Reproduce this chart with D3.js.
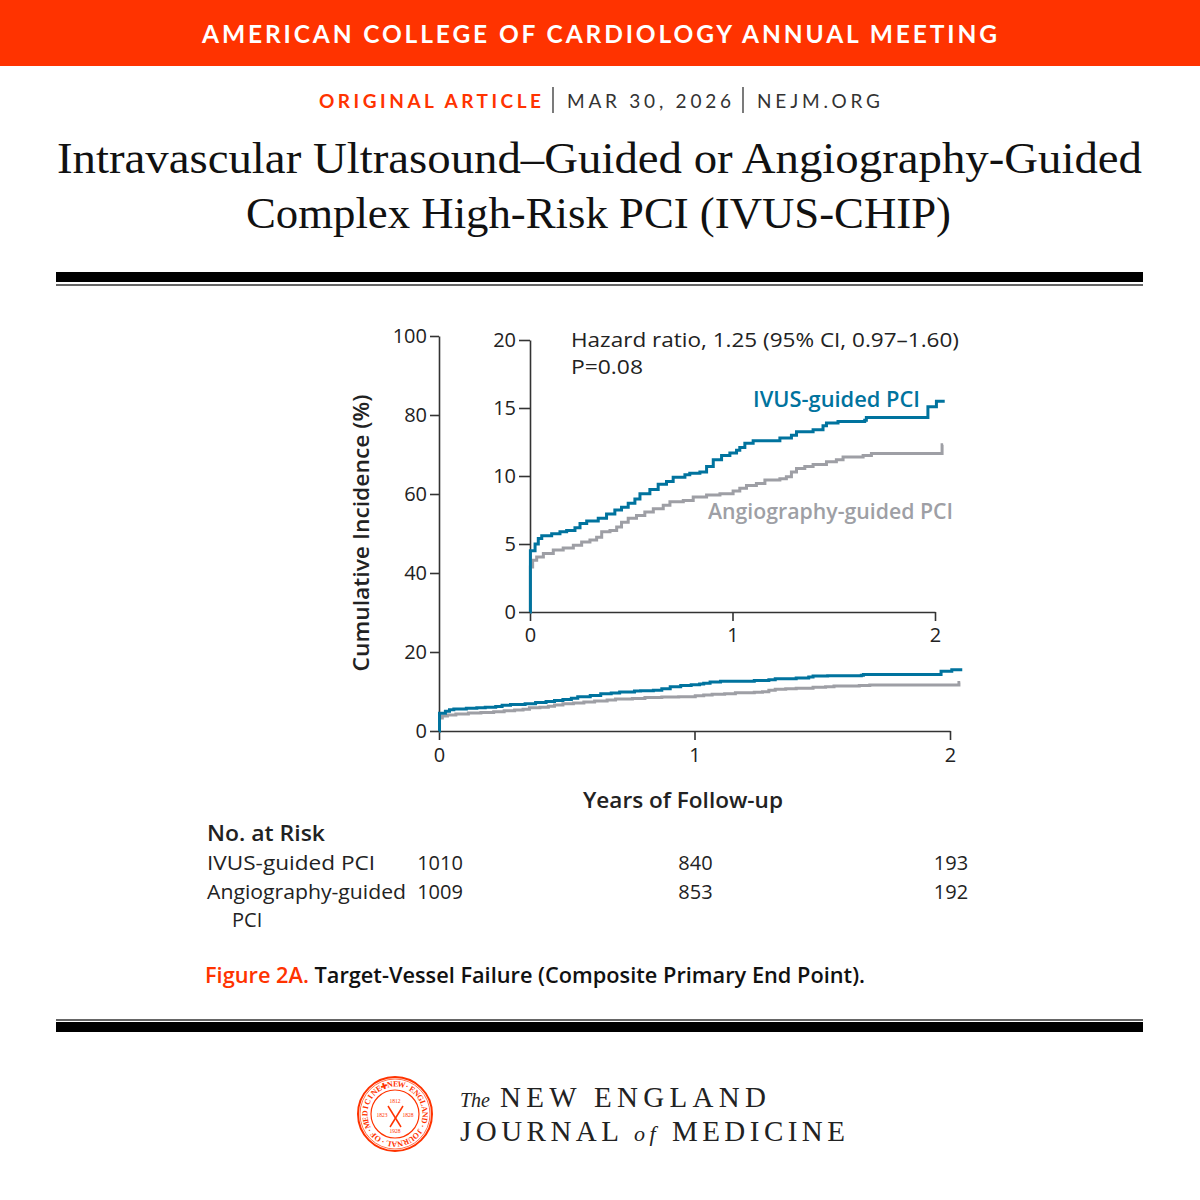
<!DOCTYPE html>
<html><head><meta charset="utf-8">
<script src="https://cdn.jsdelivr.net/npm/d3@7"></script>
<style>body{margin:0;background:#fff}svg{display:block}</style>
</head><body>
<script>
// ---------- data ----------
const years = [0, 1, 2];
const yTicksMain = [0, 20, 40, 60, 80, 100];
const yTicksInset = [0, 5, 10, 15, 20];
const ivusTimes  = [0, 0.002, 0.025, 0.041, 0.058, 0.107, 0.148, 0.181, 0.222, 0.247, 0.28, 0.337, 0.378, 0.419, 0.452, 0.485, 0.518, 0.543, 0.592, 0.633, 0.674, 0.707, 0.765, 0.789, 0.839, 0.872, 0.905, 0.946, 0.987, 1.020, 1.036, 1.061, 1.102, 1.201, 1.234, 1.291, 1.316, 1.398, 1.447, 1.464, 1.521, 1.653, 1.661, 1.965, 2.007, 2.048];
const ivusValues = [0, 4.5,   5.0,   5.4,   5.6,   5.75,  5.9,   6.0,   6.2,   6.5,   6.7,  6.9,   7.2,   7.5,   7.7,   8.0,   8.3,   8.7,   9.0,   9.4,   9.6,   9.9,   10.1,  10.2,  10.3,  10.7,  11.2,  11.5,  11.7,  11.9,  12.1,  12.4,  12.6,  12.6,  12.8,  13.0,  13.25, 13.4,  13.7,  13.9,  14.0,  14.1,  14.3,  15.1,  15.5,  15.5];
const angioTimes  = [0, 0.002, 0.013, 0.033, 0.066, 0.115, 0.164, 0.214, 0.255, 0.296, 0.329, 0.354, 0.395, 0.428, 0.452, 0.485, 0.526, 0.567, 0.609, 0.658, 0.691, 0.757, 0.806, 0.872, 0.938, 1.003, 1.036, 1.069, 1.118, 1.160, 1.234, 1.266, 1.291, 1.316, 1.357, 1.398, 1.464, 1.513, 1.546, 1.645, 1.686, 2.035, 2.04];
const angioValues = [0, 3.3,   3.8,   4.05,  4.3,   4.55,  4.7,   4.9,   5.15,  5.3,   5.5,   5.9,   6.0,   6.25,  6.6,   6.9,   7.1,   7.35,  7.6,   7.85,  8.1,   8.2,   8.45,  8.6,   8.7,   8.9,   9.1,   9.3,   9.45,  9.7,   9.8,   9.95,  10.3,  10.55, 10.7,  10.85, 11.05, 11.2,  11.4,  11.5,  11.65, 12.3,  12.3];
const riskGroups = ["IVUS-guided PCI", "Angiography-guided"];
const riskIvus  = [1010, 840, 193];
const riskAngio = [1009, 853, 192];

const BLUE = "#00739e", GRAY = "#9e9fa5", RED = "#ff3300", AX = "#333";
const SANS = "'Open Sans', 'Noto Sans', sans-serif";
const SERIF = "'Liberation Serif', 'DejaVu Serif', serif";

const svg = d3.select("body").append("svg").attr("width", 1200).attr("height", 1200);

// ---------- header ----------
svg.append("rect").attr("x",0).attr("y",0).attr("width",1200).attr("height",66).attr("fill",RED);
svg.append("text").attr("x",202).attr("y",43).attr("textLength",795).attr("lengthAdjust","spacing")
  .attr("font-family","Lato, sans-serif").attr("font-weight",700).attr("font-size",24.5).attr("fill","#fff")
  .text("AMERICAN COLLEGE OF CARDIOLOGY ANNUAL MEETING");

const sub = [[319,222,"ORIGINAL ARTICLE",RED,700],[567,164,"MAR 30, 2026","#333",400],[757,123,"NEJM.ORG","#333",400]];
sub.forEach(s=>svg.append("text").attr("x",s[0]).attr("y",108).attr("textLength",s[1]).attr("lengthAdjust","spacing")
  .attr("font-family","Lato, sans-serif").attr("font-weight",s[4]).attr("font-size",19).attr("fill",s[3]).text(s[2]));
[553,743].forEach(x=>svg.append("line").attr("x1",x).attr("x2",x).attr("y1",87).attr("y2",113).attr("stroke","#333").attr("stroke-width",1.3));

svg.append("text").attr("x",57).attr("y",173).attr("textLength",1085).attr("lengthAdjust","spacingAndGlyphs")
  .attr("font-family",SERIF).attr("font-size",45).attr("fill","#111").text("Intravascular Ultrasound–Guided or Angiography-Guided");
svg.append("text").attr("x",246).attr("y",228).attr("textLength",705).attr("lengthAdjust","spacingAndGlyphs")
  .attr("font-family",SERIF).attr("font-size",45).attr("fill","#111").text("Complex High-Risk PCI (IVUS-CHIP)");

// rules
svg.append("rect").attr("x",56).attr("y",272).attr("width",1087).attr("height",10).attr("fill","#000");
svg.append("rect").attr("x",56).attr("y",284).attr("width",1087).attr("height",2).attr("fill","#666");
svg.append("rect").attr("x",56).attr("y",1019).attr("width",1087).attr("height",2).attr("fill","#666");
svg.append("rect").attr("x",56).attr("y",1022).attr("width",1087).attr("height",10).attr("fill","#000");

// ---------- main chart ----------
const x = d3.scaleLinear().domain([0,2]).range([439,950]);
const y = d3.scaleLinear().domain([0,100]).range([731,336]);
const gMain = svg.append("g");
const fmt = d3.format("d");

const styleAxis = (g)=>{
  g.selectAll("path.domain").attr("stroke",AX).attr("stroke-width",1.6);
  g.selectAll(".tick line").attr("stroke",AX).attr("stroke-width",1.6);
  g.selectAll(".tick text").attr("font-family",SANS).attr("font-size",20).attr("fill","#222");
};
gMain.append("g").attr("transform","translate(439,0)")
  .call(d3.axisLeft(y).tickValues(yTicksMain).tickFormat(fmt).tickSize(9).tickSizeOuter(0).tickPadding(3))
  .call(styleAxis);
gMain.append("g").attr("transform","translate(0,731)")
  .call(d3.axisBottom(x).tickValues(years).tickFormat(fmt).tickSize(9).tickSizeOuter(0).tickPadding(8))
  .call(styleAxis);

const mkLine = (xs, ys) => d3.line().curve(d3.curveStepAfter).x(d=>xs(d[0])).y(d=>ys(d[1]));
const ivus = ivusTimes.map((t,i)=>[t, ivusValues[i]]);
const angio = angioTimes.map((t,i)=>[t, angioValues[i]]);

gMain.append("path").datum(angio).attr("d",mkLine(x,y)).attr("fill","none").attr("stroke",GRAY).attr("stroke-width",3);
gMain.append("path").datum(ivus).attr("d",mkLine(x,y)).attr("fill","none").attr("stroke",BLUE).attr("stroke-width",3);

svg.append("text").attr("transform","translate(369,533) rotate(-90)").attr("text-anchor","middle")
  .attr("textLength",277).attr("lengthAdjust","spacingAndGlyphs")
  .attr("font-family",SANS).attr("font-weight",600).attr("font-size",22).attr("fill","#222")
  .text("Cumulative Incidence (%)");
svg.append("text").attr("x",683).attr("y",808).attr("text-anchor","middle")
  .attr("textLength",200).attr("lengthAdjust","spacingAndGlyphs")
  .attr("font-family",SANS).attr("font-weight",600).attr("font-size",22).attr("fill","#222")
  .text("Years of Follow-up");

// ---------- inset ----------
const xi = d3.scaleLinear().domain([0,2]).range([530,935]);
const yi = d3.scaleLinear().domain([0,20]).range([612,340]);
const gIn = svg.append("g");
gIn.append("g").attr("transform","translate(530,0)")
  .call(d3.axisLeft(yi).tickValues(yTicksInset).tickFormat(fmt).tickSize(11).tickSizeOuter(0).tickPadding(3))
  .call(styleAxis);
gIn.append("g").attr("transform","translate(0,612)")
  .call(d3.axisBottom(xi).tickValues(years).tickFormat(fmt).tickSize(9).tickSizeOuter(0).tickPadding(7))
  .call(styleAxis);
gIn.append("path").datum(angio).attr("d",mkLine(xi,yi)).attr("fill","none").attr("stroke",GRAY).attr("stroke-width",3);
gIn.append("path").datum(ivus).attr("d",mkLine(xi,yi)).attr("fill","none").attr("stroke",BLUE).attr("stroke-width",3);

svg.append("text").attr("x",571).attr("y",347).attr("textLength",388).attr("lengthAdjust","spacingAndGlyphs")
  .attr("font-family",SANS).attr("font-size",20).attr("fill","#222").text("Hazard ratio, 1.25 (95% CI, 0.97–1.60)");
svg.append("text").attr("x",571).attr("y",374).attr("textLength",72).attr("lengthAdjust","spacingAndGlyphs")
  .attr("font-family",SANS).attr("font-size",20).attr("fill","#222").text("P=0.08");
svg.append("text").attr("x",753).attr("y",407).attr("textLength",167).attr("lengthAdjust","spacingAndGlyphs")
  .attr("font-family",SANS).attr("font-weight",600).attr("font-size",21).attr("fill",BLUE).text("IVUS-guided PCI");
svg.append("text").attr("x",708).attr("y",519).attr("textLength",245).attr("lengthAdjust","spacingAndGlyphs")
  .attr("font-family",SANS).attr("font-weight",600).attr("font-size",21).attr("fill",GRAY).text("Angiography-guided PCI");

// ---------- risk table ----------
svg.append("text").attr("x",207).attr("y",841).attr("textLength",118).attr("lengthAdjust","spacingAndGlyphs")
  .attr("font-family",SANS).attr("font-weight",600).attr("font-size",22).attr("fill","#222").text("No. at Risk");
const rowsY = [870, 899];
svg.append("text").attr("x",207).attr("y",rowsY[0]).attr("textLength",168).attr("lengthAdjust","spacingAndGlyphs")
  .attr("font-family",SANS).attr("font-size",20).attr("fill","#222").text(riskGroups[0]);
svg.append("text").attr("x",207).attr("y",rowsY[1]).attr("textLength",199).attr("lengthAdjust","spacingAndGlyphs")
  .attr("font-family",SANS).attr("font-size",20).attr("fill","#222").text(riskGroups[1]);
svg.append("text").attr("x",232).attr("y",927).attr("font-family",SANS).attr("font-size",20).attr("fill","#222").text("PCI");
[riskIvus, riskAngio].forEach((row,r)=>{
  row.forEach((v,i)=>svg.append("text").attr("x",x(years[i])+1).attr("y",rowsY[r]).attr("text-anchor","middle")
    .attr("font-family",SANS).attr("font-size",20).attr("fill","#222").text(v));
});

// caption
const cap = svg.append("text").attr("x",205).attr("y",983).attr("font-family",SANS).attr("font-weight",600).attr("font-size",21)
  .attr("textLength",660).attr("lengthAdjust","spacingAndGlyphs");
cap.append("tspan").attr("fill",RED).text("Figure 2A. ");
cap.append("tspan").attr("fill","#111").text("Target-Vessel Failure (Composite Primary End Point).");

// ---------- logo ----------
const seal = svg.append("g").attr("transform","translate(395,1114)");
seal.append("circle").attr("r",37).attr("fill","none").attr("stroke",RED).attr("stroke-width",2);
seal.append("circle").attr("r",35).attr("fill","none").attr("stroke",RED).attr("stroke-width",0.7);
seal.append("circle").attr("r",24).attr("fill","none").attr("stroke",RED).attr("stroke-width",1.2);
const ring = Array.from("OF·MEDICINE✚NEW·ENGLAND·JOURNAL·");
const step = 360 / ring.length;
ring.forEach((ch,i)=>{
  const a = 215 + i*step;
  seal.append("text").attr("transform",`rotate(${a}) translate(0,-27.5)`).attr("text-anchor","middle")
    .attr("font-family",SERIF).attr("font-weight",700).attr("font-size",8).attr("fill",RED).text(ch);
});
[["1812",0,-11],["1823",-13,3],["1828",13,3],["1928",0,19]].forEach(d=>
  seal.append("text").attr("x",d[1]).attr("y",d[2]).attr("text-anchor","middle").attr("font-family",SERIF).attr("font-size",5.5).attr("fill",RED).text(d[0]));
seal.append("line").attr("x1",-7).attr("y1",-8).attr("x2",6).attr("y2",13).attr("stroke",RED).attr("stroke-width",1.5);
seal.append("line").attr("x1",8).attr("y1",-8).attr("x2",-5).attr("y2",13).attr("stroke",RED).attr("stroke-width",1.5);

const logo = svg.append("g").attr("font-family",SERIF).attr("fill","#222");
logo.append("text").attr("x",460).attr("y",1107).attr("font-size",20).attr("font-style","italic").text("The");
logo.append("text").attr("x",500).attr("y",1107).attr("font-size",29).attr("textLength",266).attr("lengthAdjust","spacing").text("NEW ENGLAND");
const j = logo.append("text").attr("x",460).attr("y",1141).attr("font-size",29);
j.append("tspan").text("JOURNAL ");
j.append("tspan").attr("font-style","italic").attr("font-size",22).text("of");
j.append("tspan").text(" MEDICINE");
j.attr("textLength",385).attr("lengthAdjust","spacing");
</script>
</body></html>
